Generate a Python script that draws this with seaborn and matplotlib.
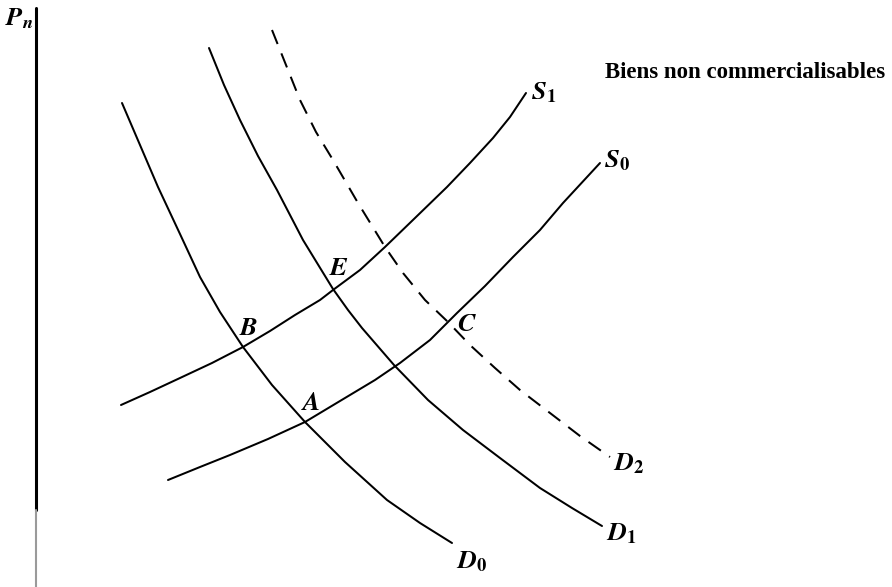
import matplotlib
matplotlib.use("Agg")
import matplotlib.pyplot as plt
import seaborn as sns

sns.set_theme(style="white")
plt.rcParams['mathtext.fontset'] = 'stix'
plt.rcParams['font.family'] = ['Liberation Serif', 'DejaVu Serif']

# Curves: quantity (x) and price (y), arbitrary units
d0_q = [86, 104, 122, 144, 164, 184, 207, 236, 269, 309, 351, 384, 416]
d0_p = [484, 442, 400, 353, 310, 275, 240, 202, 165, 125, 87, 64, 44]

d1_q = [173, 188, 204, 222, 241, 267, 297, 312, 326, 358, 392, 427, 464, 504, 536, 566]
d1_p = [539, 502, 467, 431, 397, 347, 298, 277, 259, 222, 187, 157, 129, 99, 79, 61]

d2_q = [236, 250, 264, 280, 297, 322, 349, 367, 389, 412, 434, 459, 484, 514, 544, 574]
d2_p = [557, 522, 487, 455, 427, 384, 340, 314, 287, 265, 242, 219, 197, 174, 151, 130]

s1_q = [85, 114, 144, 176, 207, 234, 259, 284, 297, 324, 349, 379, 411, 434, 457, 474, 490]
s1_p = [182, 195, 209, 224, 240, 256, 272, 287, 297, 317, 340, 369, 400, 424, 449, 470, 494]

s0_q = [132, 164, 194, 232, 269, 314, 339, 364, 394, 421, 449, 477, 504, 527, 564]
s0_p = [107, 120, 132, 148, 165, 192, 207, 224, 247, 274, 301, 330, 357, 384, 424]

fig = plt.figure(figsize=(8.92, 5.87), dpi=100)
ax = fig.add_axes([36 / 892, 0, 1 - 36 / 892, 1 - 8 / 587])
ax.set_xlim(0, 856)
ax.set_ylim(0, 579)

lw = 1.45
for q, p in [(d0_q, d0_p), (d1_q, d1_p), (s1_q, s1_p), (s0_q, s0_p)]:
    sns.lineplot(x=q, y=p, sort=False, ax=ax, color="black", lw=lw,
                 estimator=None, solid_joinstyle="round")
sns.lineplot(x=d2_q, y=d2_p, sort=False, ax=ax, color="black", lw=lw,
             estimator=None)
ax.lines[-1].set_dashes([7.5, 5])

for s in ["top", "right", "bottom", "left"]:
    ax.spines[s].set_visible(False)
ax.set_xticks([])
ax.set_yticks([])
# vertical price axis
ax.plot([0, 0], [77, 579], color="black", lw=2.2, clip_on=False)
ax.plot([0, 0], [0, 77], color="#9a9a9a", lw=1.5, clip_on=False)

lab = dict(fontsize=19, color="black", ha="left", va="baseline")
fig.text(5 / 892, 1 - 25 / 587, r"$\mathbfit{P}_{\mathbfit{n}}$", **lab)
ax.text(495, 587 - 99, r"$\mathbfit{S}_{\mathbf{1}}$", **lab)
ax.text(568, 587 - 167, r"$\mathbfit{S}_{\mathbf{0}}$", **lab)
ax.text(577, 587 - 470, r"$\mathbfit{D}_{\mathbf{2}}$", **lab)
ax.text(570, 587 - 540, r"$\mathbfit{D}_{\mathbf{1}}$", **lab)
ax.text(420, 587 - 568, r"$\mathbfit{D}_{\mathbf{0}}$", **lab)
ax.text(293, 587 - 275, r"$\mathbfit{E}$", **lab)
ax.text(203, 587 - 335, r"$\mathbfit{B}$", **lab)
ax.text(265, 587 - 410, r"$\mathbfit{A}$", **lab)
ax.text(421, 587 - 331, r"$\mathbfit{C}$", **lab)
fig.text(605 / 892, 1 - 72 / 587, "Biens non commercialisables",
         fontsize=16.5, fontweight="bold", ha="left", va="center", color="black",
         family=["Liberation Serif", "DejaVu Serif"])

fig.savefig("out.png", dpi=100)
